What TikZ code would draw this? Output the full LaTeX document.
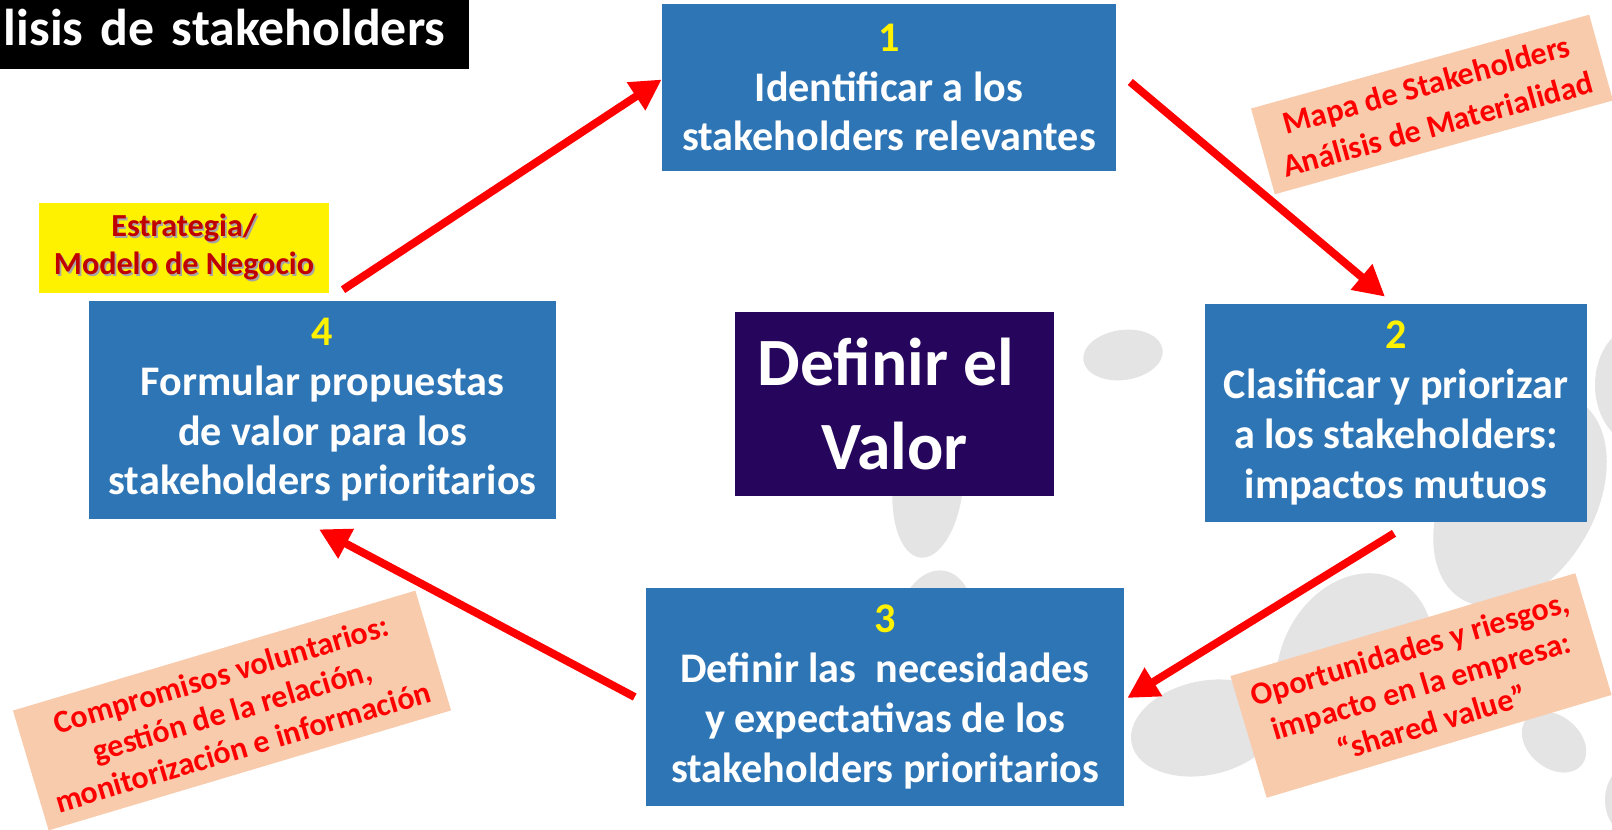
\documentclass[tikz,border=0pt]{standalone}
\usepackage{fontspec}
\setmainfont{Carlito}
\usetikzlibrary{arrows.meta}

\definecolor{boxblue}{RGB}{46,117,182}
\definecolor{valpurple}{RGB}{37,6,92}
\definecolor{notepeach}{RGB}{248,203,173}
\definecolor{darkred}{RGB}{192,0,0}
\definecolor{blobgray}{RGB}{228,228,228}

\newcommand\shadowline[1]{\makebox[0pt][l]{\hspace{1pt}\raisebox{-1pt}{\textcolor{black!35}{#1}}}#1}

\begin{document}
\begin{tikzpicture}[x=0.02cm, y=-0.02cm,
    stagebox/.style={fill=boxblue, text=white, align=center, inner sep=0pt,
      font=\fontsize{24}{28.3}\selectfont\bfseries},
    notebox/.style={fill=notepeach, text=red, align=center, inner sep=0pt},
    flow/.style={red, line width=4.5pt, -{Triangle[length=17.5pt,width=18pt]}},
    blob/.style={fill=blobgray}]

  \useasboundingbox (0,0) rectangle (1612,830);

  % grey spots in the background
  \foreach \cx/\cy/\rx/\ry/\a in {1123/355/40/25/8, 928/485/35/73/-6, 935/625/38/55/-10,
      1520/500/75/115/-30, 1640/385/45/60/0, 1355/665/75/95/-25,
      1205/728/75/47/12, 1554/742/36/26/-40, 1640/800/35/40/0}
    \fill[blob, rotate around={\a:(\cx,\cy)}] (\cx,\cy) ellipse [x radius=\rx, y radius=\ry];

  \node[fill=black, text=white, anchor=north west, inner sep=0pt, text width=9.38cm, align=left,
    minimum height=1.38cm, text height=0.74cm, text depth=0.32cm,
    font=\fontsize{29.5}{36}\selectfont\bfseries] (title) at (0,0) {\hspace*{2pt}lisis de stakeholders};

  \node[stagebox, minimum width=9.08cm, minimum height=3.34cm] (s1) at (889,87.5)
    {\textcolor{yellow}{1}\\Identificar a los\\stakeholders relevantes};
  \node[stagebox, minimum width=7.64cm, minimum height=4.36cm] (s2) at (1396,413)
    {\textcolor{yellow}{2}\\Clasificar y priorizar\\a los stakeholders:\\impactos mutuos};
  \node[stagebox, minimum width=9.56cm, minimum height=4.36cm] (s3) at (885,697)
    {\textcolor{yellow}{3}\\Definir las\ \ necesidades\\y expectativas de los\\stakeholders prioritarios};
  \node[stagebox, minimum width=9.34cm, minimum height=4.36cm] (s4) at (322.5,410)
    {\textcolor{yellow}{4}\\Formular propuestas\\de valor para los\\stakeholders prioritarios};

  \node[fill=valpurple, text=white, align=center, inner sep=0pt, minimum width=6.38cm, minimum height=3.68cm,
    font=\fontsize{38.5}{47.6}\selectfont\bfseries] (valor) at (894.5,404) {Definir el\hspace*{0.25em}\\Valor};

  \node[fill=yellow, text=darkred, align=center, inner sep=0pt, minimum width=5.8cm, minimum height=1.8cm,
    font=\fontsize{18.3}{21.5}\selectfont\bfseries] (estrategia) at (184,248)
    {\shadowline{Estrategia/}\\\shadowline{Modelo de Negocio}};

  \draw[flow] ([shift={(14,-5.5)}]s1.east) -- ([shift={(-11,-7)}]s2.north);
  \draw[flow] ([shift={(-2,11)}]s2.south) -- ([shift={(3,1)}]s3.east);
  \draw[flow] ([shift={(-11,0)}]s3.west) -- ([shift={(-3.5,10)}]s4.south);
  \draw[flow] ([shift={(20.5,-11)}]s4.north) -- ([shift={(0,-8)}]s1.west);

  \node[notebox, rotate=15.5, minimum width=7.02cm, minimum height=1.78cm,
    font=\fontsize{18.2}{23.6}\selectfont\bfseries] (mapa) at (1432,104.5)
    {Mapa de Stakeholders\\Análisis de Materialidad};
  \node[notebox, rotate=16.6, minimum width=7.2cm, minimum height=2.54cm,
    font=\fontsize{18.2}{22}\selectfont\bfseries] (oportunidades) at (1421,685.5)
    {Oportunidades y riesgos,\\impacto en la empresa:\\“shared value”};
  \node[notebox, rotate=16.6, minimum width=8.4cm, minimum height=2.5cm,
    font=\fontsize{18.2}{21.5}\selectfont\bfseries] (compromisos) at (232,710.5)
    {Compromisos voluntarios:\\gestión de la relación,\\monitorización e información};
\end{tikzpicture}
\end{document}
